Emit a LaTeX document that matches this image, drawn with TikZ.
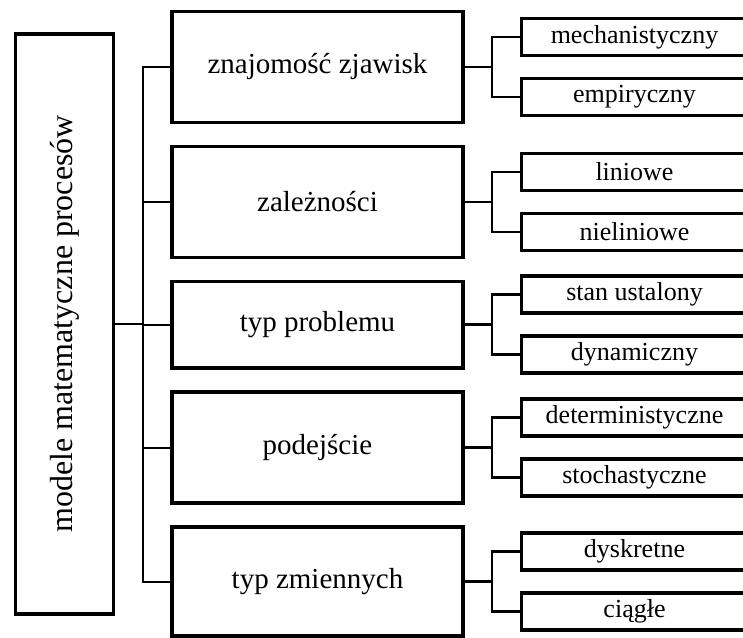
\documentclass[tikz,border=0pt]{standalone}
\usepackage{fontspec}
\setmainfont{Liberation Serif}
\usetikzlibrary{positioning, calc}

\begin{document}
\begin{tikzpicture}[x=1pt, y=-1pt,
      box/.style={draw=black, line width=3.8pt, align=center, inner sep=0pt,
        minimum width=291pt, minimum height=111pt, font=\fontsize{29}{34}\selectfont},
      leaf/.style={box, minimum width=226pt, minimum height=37pt, font=\fontsize{26}{30}\selectfont},
      root/.style={box, rotate=90, minimum width=580pt, minimum height=98pt,
        font=\fontsize{32}{38}\selectfont},
      link/.style={line width=2.6pt},
      spine/.style={line width=2pt},
      node distance=20.2pt and 54.7pt]
    \useasboundingbox (0,0) rectangle (743,637);
    \clip (0,0) rectangle (743,637);
    \node[root] (r) at (64.5,324) {modele matematyczne procesów};
    \node[box] (z) at (317.5,67) {znajomość zjawisk};
    \node[box, below=of z] (d) {zależności};
    \node[box, below=of d, minimum height=86.5pt] (t) {typ problemu};
    \node[box, below=of t] (p) {podejście};
    \node[box, below=of p, minimum height=109pt] (v) {typ zmiennych};
    \node[leaf, right=of z, yshift=30pt] (z1) {mechanistyczny};
    \node[leaf, right=of z, yshift=-30pt] (z2) {empiryczny};
    \node[leaf, right=of d, yshift=30pt] (d1) {liniowe};
    \node[leaf, right=of d, yshift=-30pt] (d2) {nieliniowe};
    \node[leaf, right=of t, yshift=30pt] (t1) {stan ustalony};
    \node[leaf, right=of t, yshift=-30pt] (t2) {dynamiczny};
    \node[leaf, right=of p, yshift=30pt] (p1) {deterministyczne};
    \node[leaf, right=of p, yshift=-30pt] (p2) {stochastyczne};
    \node[leaf, right=of v, yshift=30pt] (v1) {dyskretne};
    \node[leaf, right=of v, yshift=-30pt] (v2) {ciągłe};
    \coordinate (bus) at (143,0);
    \draw[link] (r.south) -- (r.south -| bus);
    \draw[spine] (z.west) -| (bus |- v.west) -- (v.west);
    \draw[spine] (bus |- d.west) -- (d.west);
    \draw[spine] (bus |- t.west) -- (t.west);
    \draw[spine] (bus |- p.west) -- (p.west);
    \draw[link] (z.east) -- ++(27,0) |- (z1.west);
    \draw[link] (z.east) -- ++(27,0) |- (z2.west);
    \draw[link] (d.east) -- ++(27,0) |- (d1.west);
    \draw[link] (d.east) -- ++(27,0) |- (d2.west);
    \draw[link] (t.east) -- ++(27,0) |- (t1.west);
    \draw[link] (t.east) -- ++(27,0) |- (t2.west);
    \draw[link] (p.east) -- ++(27,0) |- (p1.west);
    \draw[link] (p.east) -- ++(27,0) |- (p2.west);
    \draw[link] (v.east) -- ++(27,0) |- (v1.west);
    \draw[link] (v.east) -- ++(27,0) |- (v2.west);
  \end{tikzpicture}
\end{document}
